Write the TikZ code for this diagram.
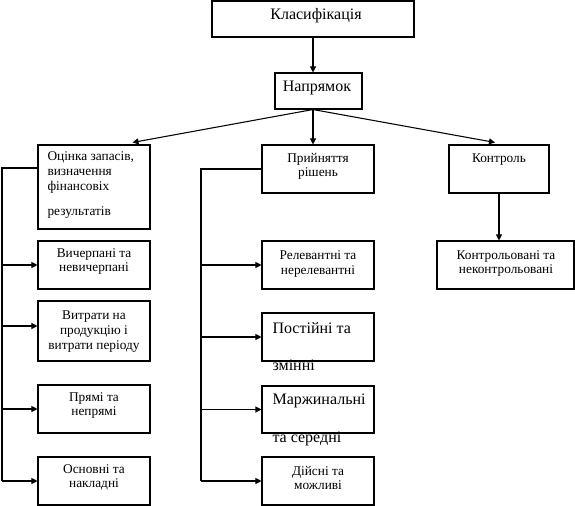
\documentclass[tikz,border=0pt]{standalone}
\usepackage{fontspec}
\setmainfont{Liberation Serif}
\usetikzlibrary{
    calc,
    fit,
    arrows.meta
}
\tikzset{
  every path/.style={
    black,
    line width=0.8pt
  },
  box/.style={
    draw,
    rectangle,
    inner sep=0pt
  },
  txt/.style={
    inner sep=0pt,
    anchor=base,
    align=center,
    font=\fontsize{10}{10.5}\selectfont
  },
  big/.style={
    font=\fontsize{12}{14}\selectfont
  },
  arr/.style={
    -{Triangle[length=4.5pt,width=4.5pt]}
  }
}

\begin{document}
\begin{tikzpicture}[x=0.75pt,y=-0.75pt]
\useasboundingbox (0,0) rectangle (575,506);
% boxes
\foreach \nm/\xa/\ya/\xb/\yb in {
    cls/212/1/414/37, dir/275/73/362/109,
    est/38/145/150/229, dec/262/145/374/193, ctl/449/145/549/193,
    exh/38/241/150/289, cost/38/301/150/361, drc/38/385/150/433, base/38/457/150/505,
    rel/262/241/374/289, fix/262/313/374/361, mrg/262/386/374/433, act/262/457/374/505,
    ctlk/437/241/574/289} {
  \node[box, fit={(\xa,\ya) (\xb,\yb)}] (\nm) {};
}
% texts (base = last line)
\node[txt, big] (cls-t) at (316,20) {Класифікація};
\node[txt, big] (dir-t) at (317,92) {Напрямок};
\node[txt, align=left, anchor=base west, font=\fontsize{10}{11.25}\selectfont] (est-t) at (47,215)
  {Оцінка запасів,\\визначення\\фінансовіх\\[6.75pt]результатів};
\node[txt] (exh-t) at (94,272) {Вичерпані та\\невичерпані};
\node[txt, font=\fontsize{10}{11.25}\selectfont] (cost-t) at (94,349) {Витрати на\\продукцію і\\витрати періоду};
\node[txt] (drc-t) at (94,415) {Прямі та\\непрямі};
\node[txt] (base-t) at (94,487) {Основні та\\накладні};
\node[txt] (dec-t) at (318,177) {Прийняття\\рішень};
\node[txt] (rel-t) at (318,274) {Релевантні та\\нерелевантні};
\node[txt, big, align=left, anchor=base west] (fix-t) at (272,370) {Постійні та\\[13.75pt]змінні};
\node[txt, big, align=left, anchor=base west] (mrg-t) at (272,442) {Маржинальні\\[14.5pt]та середні};
\node[txt] (act-t) at (318,489) {Дійсні та\\можливі};
\node[txt] (ctl-t) at (499,163) {Контроль};
\node[txt] (ctlk-t) at (506,273) {Контрольовані та\\неконтрольовані};
% arrows from the top
\coordinate (fork) at (cls.south |- dir.south);
\draw[arr] (cls.south) -- (cls.south |- dir.north);
\draw[arr] (fork) -- ($(est.north east)+(-18,-2)$);
\draw[arr] (fork) -- (fork |- dec.north);
\draw[arr] (fork) -- ($(ctl.north)+(-4,-2)$);
\draw[arr] (ctl.south) -- (ctl.south |- ctlk.north);
% left and middle buses
\coordinate (lbus) at (2,168);
\coordinate (mbus) at (201,169);
\draw (est.west |- lbus) -- (lbus) -- (lbus |- base.west);
\draw (dec.west |- mbus) -- (mbus) -- (mbus |- act.west);
\foreach \b/\d in {exh/0,cost/-5,drc/0,base/0}
  \draw[arr] ($(lbus |- \b.west)+(0,\d)$) -- ($(\b.west)+(0,\d)$);
\foreach \b in {rel,fix,mrg,act}
  \draw[arr] (mbus |- \b.west) -- (\b.west);
\end{tikzpicture}
\end{document}
